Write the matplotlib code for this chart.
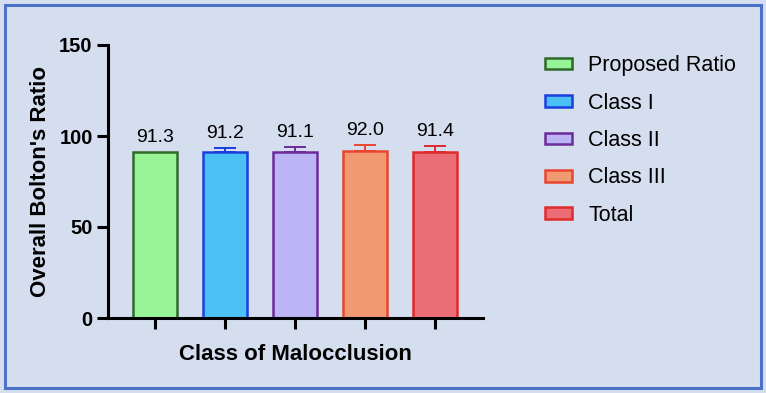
import matplotlib
matplotlib.use("Agg")
import matplotlib.pyplot as plt
from matplotlib.patches import Rectangle, Patch

plt.rcParams['font.family'] = ['Liberation Sans', 'DejaVu Sans']

groups = ['Proposed Ratio', 'Class I', 'Class II', 'Class III', 'Total']
means = [91.3, 91.2, 91.1, 92.0, 91.4]
sds = [0.0, 2.3, 3.0, 3.1, 3.1]
labels = ['91.3', '91.2', '91.1', '92.0', '91.4']
fills = ['#98F597', '#4BC0F5', '#BBB5F6', '#F19A71', '#EB6D75']
edges = ['#2F6A2B', '#1B3EDF', '#6C2B98', '#E8472F', '#E02B2D']

bg = '#D5DEEF'
fig = plt.figure(figsize=(7.66, 3.93), dpi=100, facecolor=bg)
fig.patches.append(Rectangle((0.006, 0.012), 0.988, 0.976, transform=fig.transFigure,
                             fill=False, edgecolor='#4A72C6', linewidth=2.2))

W, H = 766, 393
ax = fig.add_axes([108 / W, 1 - 318 / H, 375 / W, 273 / H])
ax.set_facecolor(bg)

x = list(range(len(groups)))
for i in x:
    ax.bar(i, means[i], width=0.64, color=fills[i], edgecolor=edges[i], linewidth=1.8, zorder=2)
    if sds[i] > 0:
        ax.errorbar(i, means[i], yerr=[[0], [sds[i]]], fmt='none', ecolor=edges[i],
                    elinewidth=1.4, capsize=8, capthick=1.4, zorder=1)
    ax.text(i, means[i] + sds[i] + 3.3, labels[i], ha='center', va='bottom', fontsize=14)

ax.set_xlim(-0.671, 4.686)
ax.set_ylim(0, 150)
ax.set_yticks([0, 50, 100, 150])
ax.set_xticks(x)
ax.set_xticklabels([])
for s in ['top', 'right']:
    ax.spines[s].set_visible(False)
for s in ['left', 'bottom']:
    ax.spines[s].set_linewidth(2.2)
ax.tick_params(axis='both', width=2.2, length=8, labelsize=14.5, pad=3)
for t in ax.get_yticklabels():
    t.set_fontweight('bold')
ax.set_ylabel("Overall Bolton's Ratio", fontsize=16, fontweight='bold', labelpad=6)
ax.set_xlabel('Class of Malocclusion', fontsize=16, fontweight='bold', labelpad=8)

handles = [Patch(facecolor=fills[i], edgecolor=edges[i], linewidth=1.8) for i in x]
fig.legend(handles, groups, loc='upper left', bbox_to_anchor=(526 / W, 1 - 36 / H),
           frameon=False, fontsize=15.5, handlelength=1.25, handleheight=0.45,
           labelspacing=0.76, handletextpad=0.75)

fig.savefig('out.png', dpi=100, facecolor=bg)
